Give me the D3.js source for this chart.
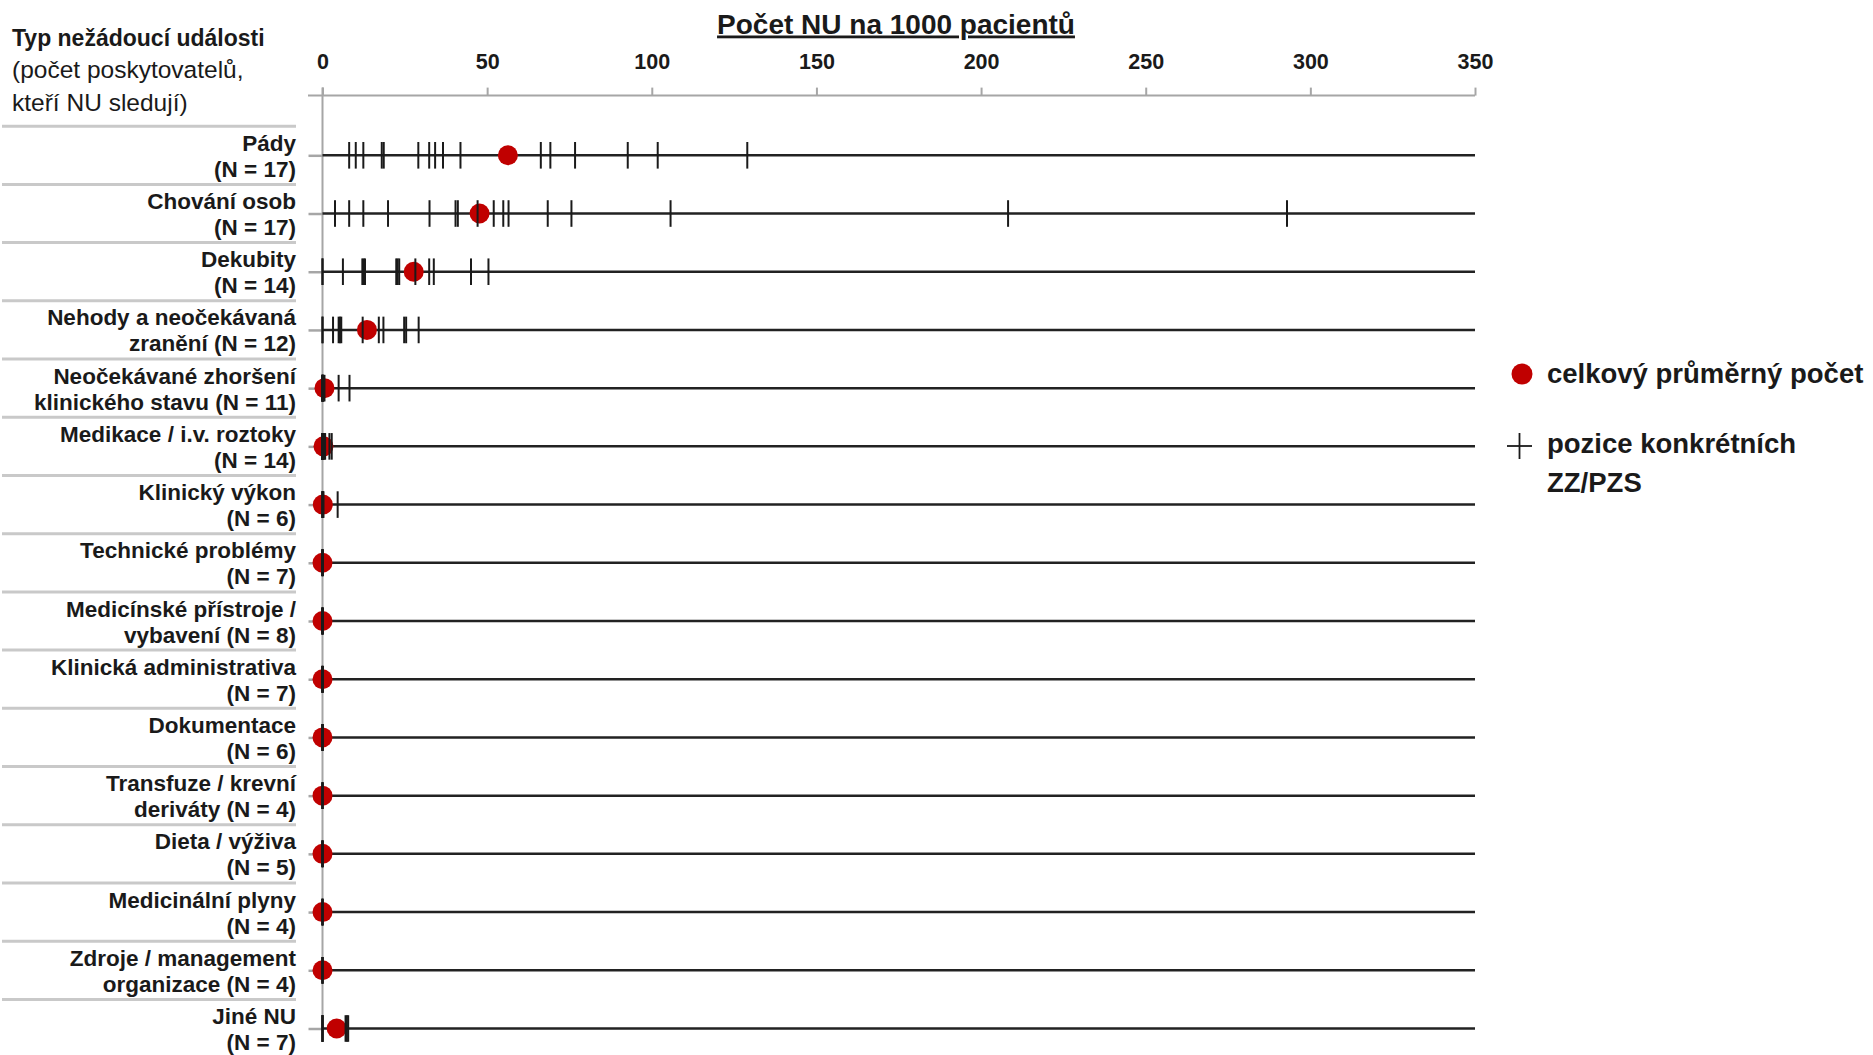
<!DOCTYPE html>
<html>
<head>
<meta charset="utf-8">
<script src="https://cdn.jsdelivr.net/npm/d3@7/dist/d3.min.js"></script>
<style>
  html, body { margin: 0; padding: 0; background: #ffffff; }
  svg { display: block; font-family: "Liberation Sans", Arial, sans-serif; }
</style>
</head>
<body>
<svg id="chart" width="1873" height="1055"></svg>
<script>
// ---------- data ----------
const chartTitle = "Počet NU na 1000 pacientů";
const headerLines = ["Typ nežádoucí události", "(počet poskytovatelů,", "kteří NU sledují)"];
const xTickValues = [0, 50, 100, 150, 200, 250, 300, 350];

const categories = [
  "Pády", "Chování osob", "Dekubity", "Nehody a neočekávaná",
  "Neočekávané zhoršení", "Medikace / i.v. roztoky", "Klinický výkon",
  "Technické problémy", "Medicínské přístroje /", "Klinická administrativa",
  "Dokumentace", "Transfuze / krevní", "Dieta / výživa", "Medicinální plyny",
  "Zdroje / management", "Jiné NU"
];
const categoryNotes = [
  "(N = 17)", "(N = 17)", "(N = 14)", "zranění (N = 12)",
  "klinického stavu (N = 11)", "(N = 14)", "(N = 6)",
  "(N = 7)", "vybavení (N = 8)", "(N = 7)",
  "(N = 6)", "deriváty (N = 4)", "(N = 5)", "(N = 4)",
  "organizace (N = 4)", "(N = 7)"
];
const meanRate = [56.3, 47.7, 27.7, 13.5, 0.6, 0.3, 0.1, 0, 0, 0, 0, 0, 0, 0, 0, 4.3];

const providerFalls      = [8.1, 10.1, 12.4, 18.0, 18.6, 29.1, 32.4, 34.2, 36.6, 41.9, 66.3, 69.2, 76.7, 92.7, 101.8, 129.0];
const providerBehaviour  = [3.8, 8.1, 12.4, 19.9, 32.5, 40.4, 41.1, 47.1, 52.0, 54.9, 56.5, 68.4, 75.6, 105.7, 208.2, 292.9];
const providerUlcers     = [0, 0, 6.2, 12.1, 12.5, 12.9, 22.4, 22.8, 23.3, 28.2, 32.4, 33.8, 45.1, 50.4];
const providerAccidents  = [0, 0, 3.2, 4.9, 5.3, 5.7, 12.2, 17.1, 18.5, 24.8, 25.4, 29.2];
const providerDeterior   = [0, 0, 0, 0, 0, 0, 0, 0.3, 0.6, 4.9, 8.2];
const providerMedication = [0, 0, 0, 0, 0, 0, 0, 0, 0, 0.3, 0.6, 0.8, 2.1, 2.8];
const providerProcedure  = [0, 0, 0, 0, 0.3, 4.6];
const providerTechnical  = [0, 0, 0, 0, 0, 0, 0];
const providerDevices    = [0, 0, 0, 0, 0, 0, 0, 0];
const providerAdmin      = [0, 0, 0, 0, 0, 0, 0];
const providerDocs       = [0, 0, 0, 0, 0, 0];
const providerTransfus   = [0, 0, 0, 0];
const providerDiet       = [0, 0, 0, 0, 0];
const providerGases      = [0, 0, 0, 0];
const providerResources  = [0, 0, 0, 0];
const providerOther      = [0, 0, 0, 0, 7.0, 7.4, 7.8];
const providerRates = [
  providerFalls, providerBehaviour, providerUlcers, providerAccidents,
  providerDeterior, providerMedication, providerProcedure, providerTechnical,
  providerDevices, providerAdmin, providerDocs, providerTransfus,
  providerDiet, providerGases, providerResources, providerOther
];

const legendMean = "celkový průměrný počet";
const legendProvider = ["pozice konkrétních", "ZZ/PZS"];

// ---------- layout ----------
const svg = d3.select("#chart");
const axisGray = "#a6a6a6";
const sepGray = "#c9c9c9";
const ink = "#1a1a1a";
const red = "#c00000";

const x = d3.scaleLinear().domain([0, 350]).range([322.5, 1475]);
const y = d3.scalePoint().domain(categories).range([155.3, 1028.5]);
const step = y.step();

// title
svg.append("text")
  .attr("x", 896).attr("y", 33.5)
  .attr("text-anchor", "middle")
  .attr("font-size", 28).attr("font-weight", 700)
  .attr("text-decoration", "underline")
  .attr("fill", ink)
  .text(chartTitle);

// header in label panel
headerLines.forEach((t, i) => {
  svg.append("text")
    .attr("x", 12).attr("y", 46 + i * 32.3)
    .attr("font-size", i === 0 ? 23 : 24.5).attr("font-weight", i === 0 ? 700 : 400)
    .attr("fill", ink)
    .text(t);
});

// separators in label panel
const sepYs = categories.map(c => y(c) - step / 2);
svg.append("g").selectAll("line").data(sepYs).join("line")
  .attr("x1", 2).attr("x2", 296)
  .attr("y1", d => d).attr("y2", d => d)
  .attr("stroke", sepGray).attr("stroke-width", 3);

// x axis (top)
const axisY = 95.6;
const xAxis = d3.axisTop(x).tickValues(xTickValues).tickSize(8).tickPadding(19).tickFormat(d3.format("d"));
const gx = svg.append("g").attr("transform", `translate(0,${axisY})`).call(xAxis);
gx.select(".domain").remove();
gx.selectAll(".tick line").attr("stroke", axisGray).attr("stroke-width", 2);
gx.selectAll(".tick text").attr("fill", ink).attr("font-size", 21.5).attr("font-weight", 700)
  .attr("font-family", "'Liberation Sans', Arial, sans-serif");
svg.append("line")
  .attr("x1", 308).attr("x2", x(350))
  .attr("y1", axisY).attr("y2", axisY)
  .attr("stroke", axisGray).attr("stroke-width", 2);

// vertical zero line
svg.append("line")
  .attr("x1", x(0)).attr("x2", x(0))
  .attr("y1", axisY - 8).attr("y2", y(categories[categories.length - 1]))
  .attr("stroke", axisGray).attr("stroke-width", 2);

// category axis stubs
const yAxis = d3.axisLeft(y).tickSize(14).tickFormat("");
const gy = svg.append("g").attr("transform", `translate(${x(0)},0)`).call(yAxis);
gy.select(".domain").remove();
gy.selectAll(".tick line").attr("stroke", axisGray).attr("stroke-width", 2.5);

// row lines
svg.append("g").selectAll("line").data(categories).join("line")
  .attr("x1", x(0)).attr("x2", x(350))
  .attr("y1", d => y(d)).attr("y2", d => y(d))
  .attr("stroke", "#222").attr("stroke-width", 2.5);

// row labels
const labels = svg.append("g").attr("font-size", 22.5).attr("font-weight", 700).attr("fill", ink)
  .attr("text-anchor", "end");
categories.forEach((c, i) => {
  labels.append("text").attr("x", 296).attr("y", y(c) - 4.5).text(c);
  labels.append("text").attr("x", 296).attr("y", y(c) + 21.5).text(categoryNotes[i]);
});

// mean dots
svg.append("g").selectAll("circle").data(categories).join("circle")
  .attr("cx", (d, i) => x(meanRate[i]))
  .attr("cy", d => y(d))
  .attr("r", 10)
  .attr("fill", red);

// provider ticks
const tickG = svg.append("g");
categories.forEach((c, i) => {
  tickG.append("g").selectAll("line").data(providerRates[i]).join("line")
    .attr("x1", v => x(v)).attr("x2", v => x(v))
    .attr("y1", y(c) - 13.3).attr("y2", y(c) + 13.3)
    .attr("stroke", ink).attr("stroke-width", 2);
});

// legend
const lg = svg.append("g");
lg.append("circle").attr("cx", 1522).attr("cy", 374).attr("r", 10.5).attr("fill", red);
lg.append("text").attr("x", 1547).attr("y", 383).attr("font-size", 27.5).attr("font-weight", 700)
  .attr("fill", ink).text(legendMean);
lg.append("line").attr("x1", 1507).attr("x2", 1532).attr("y1", 446).attr("y2", 446)
  .attr("stroke", ink).attr("stroke-width", 1.8);
lg.append("line").attr("x1", 1519.5).attr("x2", 1519.5).attr("y1", 433).attr("y2", 459)
  .attr("stroke", ink).attr("stroke-width", 1.8);
legendProvider.forEach((t, i) => {
  lg.append("text").attr("x", 1547).attr("y", 453 + i * 38.6).attr("font-size", 27.5).attr("font-weight", 700)
    .attr("fill", ink).text(t);
});
</script>
</body>
</html>
